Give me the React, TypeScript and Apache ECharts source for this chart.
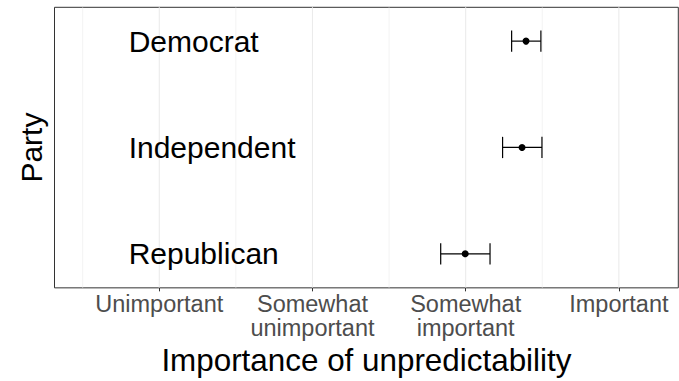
import React, { useEffect, useRef } from 'react';
import * as echarts from 'echarts';

// Party categories, bottom to top, and their vertical slots
const parties = ['Republican', 'Independent', 'Democrat'];
const partyY = [1, 2, 3];

// Mean rated importance of unpredictability with its confidence interval
const meanScore = [2.997, 3.368, 3.394];
const lowerCI = [2.837, 3.241, 3.3];
const upperCI = [3.159, 3.498, 3.491];

// Response scale
const tickValues = [1, 2, 3, 4];
const tickLabels = ['Unimportant', 'Somewhat\nunimportant', 'Somewhat\nimportant', 'Important'];
const minorBreaks = [0.5, 1.5, 2.5, 3.5];

// Where the party names are anchored on the x scale
const labelX = 0.8;

const FONT = '"Liberation Sans", Arial, Helvetica, sans-serif';

export default function App() {
  const ref = useRef<HTMLDivElement>(null);

  useEffect(() => {
    if (!ref.current) return;
    const chart = echarts.init(ref.current, undefined, { renderer: 'svg' });

    const gridData = [
      ...minorBreaks.map((v) => [v, 0]),
      ...tickValues.map((v) => [v, 1]),
    ];

    chart.setOption({
      animation: false,
      backgroundColor: '#fff',
      textStyle: { fontFamily: FONT },
      grid: {
        left: 54.5,
        right: 0.7,
        top: 7.3,
        bottom: 88,
        show: true,
        borderColor: '#333333',
        borderWidth: 1,
        backgroundColor: '#fff',
      },
      xAxis: {
        type: 'value',
        min: 0.316,
        max: 4.388,
        axisLine: { show: false },
        splitLine: { show: false },
        axisTick: {
          show: true,
          customValues: tickValues,
          length: 3.5,
          lineStyle: { color: '#333333', width: 1 },
        },
        axisLabel: {
          customValues: tickValues,
          formatter: (v: number) => tickLabels[tickValues.indexOf(v)] ?? '',
          color: '#4D4D4D',
          fontSize: 23.5,
          lineHeight: 23.5,
          fontFamily: FONT,
          margin: 4.6,
        },
        name: 'Importance of unpredictability',
        nameLocation: 'middle',
        nameGap: 55,
        nameTextStyle: { fontSize: 31.4, lineHeight: 31.4, color: '#000', fontFamily: FONT },
      },
      yAxis: {
        type: 'value',
        min: 0.68,
        max: 3.318,
        axisLine: { show: false },
        axisTick: { show: false },
        axisLabel: { show: false },
        splitLine: { show: false },
        name: 'Party',
        nameLocation: 'middle',
        nameRotate: 90,
        nameGap: 8,
        nameTextStyle: { fontSize: 30, lineHeight: 30, color: '#000', fontFamily: FONT },
      },
      series: [
        {
          // vertical panel gridlines
          type: 'custom',
          silent: true,
          z: 0,
          data: gridData,
          renderItem: (params: any, api: any) => {
            const cs = params.coordSys;
            const x = api.coord([api.value(0), 2])[0];
            const major = api.value(1) === 1;
            return {
              type: 'line',
              shape: { x1: x, y1: cs.y, x2: x, y2: cs.y + cs.height },
              style: { stroke: '#EBEBEB', lineWidth: major ? 1.1 : 0.6 },
            };
          },
        },
        {
          // confidence interval bars with end caps
          type: 'custom',
          silent: true,
          z: 2,
          data: partyY.map((y, i) => [lowerCI[i], upperCI[i], y]),
          encode: { x: [0, 1], y: 2 },
          renderItem: (params: any, api: any) => {
            const y = api.value(2);
            const lo = api.value(0);
            const hi = api.value(1);
            const pLo = api.coord([lo, y]);
            const pHi = api.coord([hi, y]);
            const capTop = api.coord([lo, y + 0.1])[1];
            const capBot = api.coord([lo, y - 0.1])[1];
            const style = { stroke: '#000', lineWidth: 1.2 };
            return {
              type: 'group',
              children: [
                { type: 'line', shape: { x1: pLo[0], y1: pLo[1], x2: pHi[0], y2: pHi[1] }, style },
                { type: 'line', shape: { x1: pLo[0], y1: capTop, x2: pLo[0], y2: capBot }, style },
                { type: 'line', shape: { x1: pHi[0], y1: capTop, x2: pHi[0], y2: capBot }, style },
              ],
            };
          },
        },
        {
          // mean points
          type: 'scatter',
          silent: true,
          z: 3,
          symbol: 'circle',
          symbolSize: 7,
          itemStyle: { color: '#000', opacity: 1 },
          data: partyY.map((y, i) => [meanScore[i], y]),
        },
        {
          // party names inside the panel
          type: 'custom',
          silent: true,
          z: 4,
          data: partyY.map((y, i) => [labelX, y, i]),
          encode: { x: 0, y: 1 },
          renderItem: (params: any, api: any) => {
            const p = api.coord([api.value(0), api.value(1)]);
            return {
              type: 'text',
              x: p[0],
              y: p[1],
              style: {
                text: parties[api.value(2)],
                fontSize: 30,
                fontFamily: FONT,
                fill: '#000',
                align: 'left',
                verticalAlign: 'middle',
              },
            };
          },
        },
      ],
    });

    return () => chart.dispose();
  }, []);

  return (
    <div
      ref={ref}
      style={{ position: 'fixed', left: 0, top: 0, width: 679, height: 381 }}
    />
  );
}
